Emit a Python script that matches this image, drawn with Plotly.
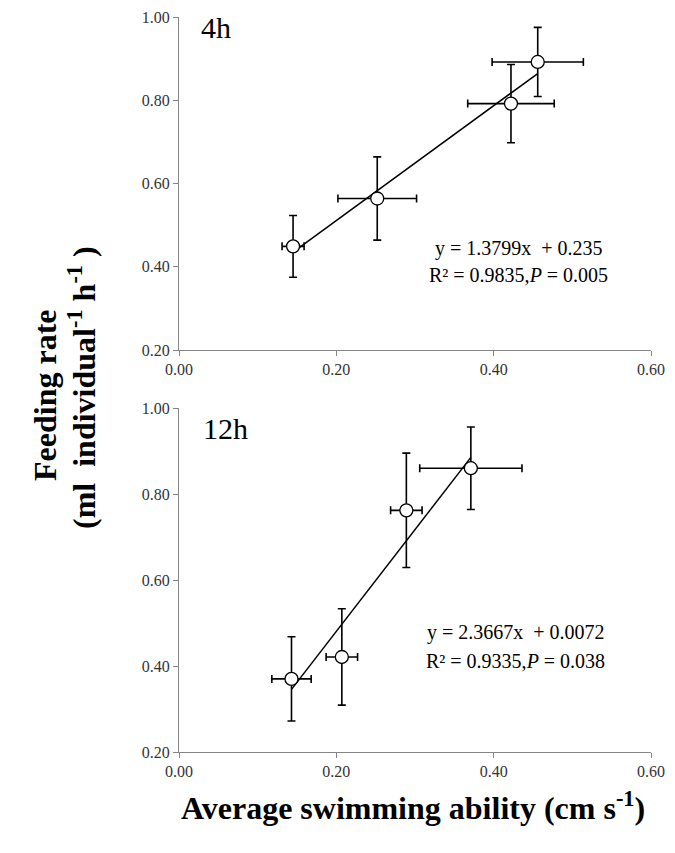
import plotly.graph_objects as go

# 4h panel
x_4h = [0.145, 0.252, 0.422, 0.456]
y_4h = [0.449, 0.564, 0.792, 0.892]
xerr_4h = [0.014, 0.050, 0.055, 0.058]
yerr_4h = [0.074, 0.100, 0.094, 0.083]
fit_4h = (1.3799, 0.235)

# 12h panel
x_12h = [0.143, 0.207, 0.289, 0.371]
y_12h = [0.370, 0.421, 0.762, 0.860]
xerr_12h = [0.025, 0.020, 0.020, 0.065]
yerr_12h = [0.098, 0.112, 0.133, 0.096]
fit_12h = (2.3667, 0.0072)

x_ticks = [0.0, 0.2, 0.4, 0.6]
x_labels = ["0.00", "0.20", "0.40", "0.60"]
y_ticks = [0.2, 0.4, 0.6, 0.8, 1.0]
y_labels = ["0.20", "0.40", "0.60", "0.80", "1.00"]

FONT = "Liberation Serif"
AXIS_GREY = "#868686"

fig = go.Figure()


def add_panel(xs, ys, xe, ye, fit, xa, ya):
    slope, icpt = fit
    lx = [min(xs), max(xs)]
    fig.add_trace(go.Scatter(
        x=lx, y=[slope * v + icpt for v in lx],
        mode="lines", line=dict(color="black", width=1.5),
        xaxis=xa, yaxis=ya, showlegend=False, hoverinfo="skip"
    ))
    fig.add_trace(go.Scatter(
        x=xs, y=ys, mode="markers",
        marker=dict(symbol="circle", size=13, color="white",
                    line=dict(color="black", width=1.3)),
        error_x=dict(type="data", array=xe, color="black", thickness=1.6, width=4),
        error_y=dict(type="data", array=ye, color="black", thickness=1.6, width=4),
        xaxis=xa, yaxis=ya, showlegend=False
    ))


add_panel(x_4h, y_4h, xerr_4h, yerr_4h, fit_4h, "x", "y")
add_panel(x_12h, y_12h, xerr_12h, yerr_12h, fit_12h, "x2", "y2")

common = dict(showline=True, linecolor=AXIS_GREY, linewidth=1,
              ticks="outside", tickcolor=AXIS_GREY, ticklen=5,
              showgrid=False, zeroline=False, automargin=False,
              ticklabeloverflow="allow",
              tickfont=dict(family=FONT, size=16, color="#333333"))
xaxis_style = dict(range=[0, 0.6], tickvals=x_ticks, ticktext=x_labels, **common)
yaxis_style = dict(range=[0.2, 1.0], tickvals=y_ticks, ticktext=y_labels, **common)

# the page body adds an 8px margin all round, so the figure is 16px smaller
fig.update_layout(
    width=659, height=837,
    margin=dict(l=171, r=16, t=9, b=93),
    paper_bgcolor="white", plot_bgcolor="white",
    font=dict(family=FONT, color="black"),
    xaxis=dict(domain=[0, 1], anchor="y", **xaxis_style),
    yaxis=dict(domain=[0.5469, 1.0], anchor="x", **yaxis_style),
    xaxis2=dict(domain=[0, 1], anchor="y2", **xaxis_style),
    yaxis2=dict(domain=[0, 0.4680], anchor="x2", **yaxis_style),
)

ann = []
# panel labels
ann.append(dict(x=0.026, y=0.975, xref="x", yref="y", text="4h", showarrow=False,
                xanchor="left", font=dict(size=30)))
ann.append(dict(x=0.028, y=0.953, xref="x2", yref="y2", text="12h", showarrow=False,
                xanchor="left", font=dict(size=30)))
# equations
ann.append(dict(x=0.432, y=0.445, xref="x", yref="y", showarrow=False,
                text="y = 1.3799x  + 0.235", font=dict(size=20)))
ann.append(dict(x=0.432, y=0.381, xref="x", yref="y", showarrow=False,
                text="R² = 0.9835,<i>P</i> = 0.005", font=dict(size=20)))
ann.append(dict(x=0.428, y=0.479, xref="x2", yref="y2", showarrow=False,
                text="y = 2.3667x  + 0.0072", font=dict(size=20)))
ann.append(dict(x=0.428, y=0.412, xref="x2", yref="y2", showarrow=False,
                text="R² = 0.9335,<i>P</i> = 0.038", font=dict(size=20)))
# axis titles (screen pixel positions, converted below)
ann.append(dict(x=25, y=395, xref="paper", yref="paper", showarrow=False,
                text="<b>Feeding rate</b>", textangle=-90, font=dict(size=32)))
ann.append(dict(x=60, y=388, xref="paper", yref="paper", showarrow=False,
                text="<b>(ml  individual<sup>-1</sup> h<sup>-1</sup> )</b>",
                textangle=-90, font=dict(size=32)))
ann.append(dict(x=413, y=828, xref="paper", yref="paper", showarrow=False,
                text="<b>Average swimming ability (cm s<sup>-1</sup>)</b>",
                font=dict(size=32)))

pw, ph = 472, 735
for a in ann:
    if a["xref"] == "paper":
        a["x"] = (a["x"] - 179) / pw
        a["y"] = (752 - a["y"]) / ph

fig.update_layout(annotations=ann)

fig.write_html("out.html")
